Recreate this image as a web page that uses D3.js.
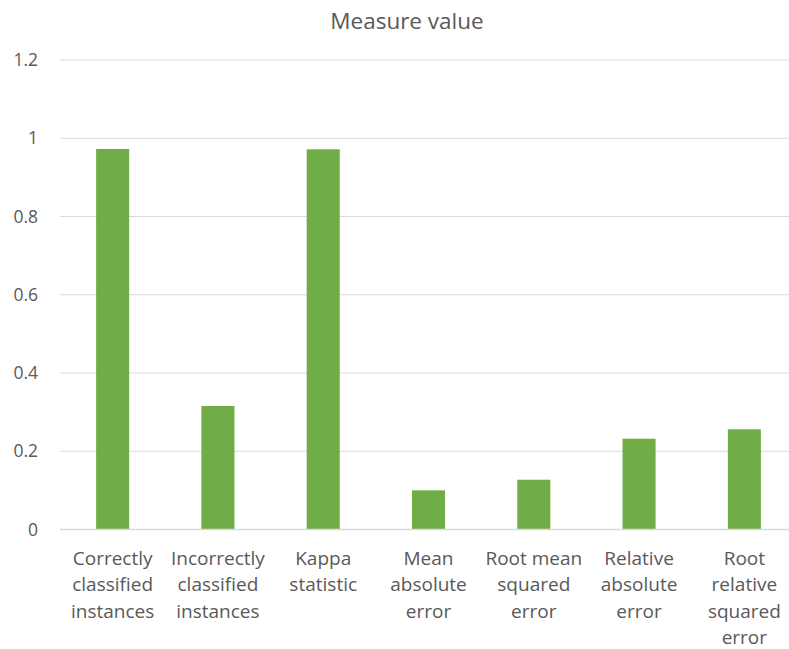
<!DOCTYPE html>
<html>
<head>
<meta charset="utf-8">
<script src="https://cdn.jsdelivr.net/npm/d3@7"></script>
<style>
  html, body { margin: 0; padding: 0; background: #ffffff; }
  svg text { font-family: "Open Sans", Lato, "DejaVu Sans", sans-serif; fill: #595959; }
</style>
</head>
<body>
<svg id="chart" width="789" height="649"></svg>
<script>
// Evaluation measures of the classifier
const categories = [
  "Correctly classified instances",
  "Incorrectly classified instances",
  "Kappa statistic",
  "Mean absolute error",
  "Root mean squared error",
  "Relative absolute error",
  "Root relative squared error"
];
// Axis label lines for each category
const categoryLines = [
  ["Correctly", "classified", "instances"],
  ["Incorrectly", "classified", "instances"],
  ["Kappa", "statistic"],
  ["Mean", "absolute", "error"],
  ["Root mean", "squared", "error"],
  ["Relative", "absolute", "error"],
  ["Root", "relative", "squared", "error"]
];
const values = [0.9725, 0.3157, 0.9718, 0.1001, 0.1272, 0.2321, 0.2562];
const yTicks = [0, 0.2, 0.4, 0.6, 0.8, 1, 1.2];
const yTickLabels = ["0", "0.2", "0.4", "0.6", "0.8", "1", "1.2"];
const title = "Measure value";

const svg = d3.select("#chart");
const W = 789, H = 649;
const plot = { left: 60, right: 797, top: 60, bottom: 529.5 };

const x = d3.scaleBand()
  .domain(categories)
  .range([plot.left, plot.right])
  .paddingInner(0.686)
  .paddingOuter(0.343);

const y = d3.scaleLinear()
  .domain([0, 1.2])
  .range([plot.bottom, plot.top]);

// Horizontal gridlines
svg.append("g")
  .selectAll("line")
  .data(yTicks.filter(t => t > 0))
  .join("line")
  .attr("x1", plot.left)
  .attr("x2", W)
  .attr("y1", d => y(d))
  .attr("y2", d => y(d))
  .attr("stroke", "#d9d9d9")
  .attr("stroke-width", 1);

// Y axis labels
const yAxis = d3.axisLeft(y)
  .tickValues(yTicks)
  .tickFormat((d, i) => yTickLabels[i])
  .tickSize(0)
  .tickPadding(0);
const gy = svg.append("g")
  .attr("transform", `translate(38,0)`)
  .call(yAxis);
gy.select(".domain").remove();
gy.selectAll("text")
  .attr("font-size", 17.5)
  .attr("fill", "#595959")
  .style("font-family", "'Open Sans', Lato, sans-serif");

// Bars
svg.append("g")
  .selectAll("rect")
  .data(values)
  .join("rect")
  .attr("x", (d, i) => x(categories[i]))
  .attr("width", x.bandwidth())
  .attr("y", d => y(d))
  .attr("height", d => y(0) - y(d))
  .attr("fill", "#70ad47");

// Baseline
svg.append("line")
  .attr("x1", plot.left)
  .attr("x2", W)
  .attr("y1", y(0))
  .attr("y2", y(0))
  .attr("stroke", "#d9d9d9")
  .attr("stroke-width", 1.5);

// Category labels
const xAxis = d3.axisBottom(x).tickSize(0).tickFormat("");
const gx = svg.append("g")
  .attr("transform", `translate(0,${y(0)})`)
  .call(xAxis);
gx.select(".domain").remove();
gx.selectAll(".tick").each(function(d, i) {
  const t = d3.select(this).append("text")
    .attr("text-anchor", "middle")
    .attr("font-size", 19)
    .attr("fill", "#595959")
    .attr("y", 35);
  categoryLines[i].forEach((line, k) => {
    t.append("tspan")
      .attr("x", 0)
      .attr("dy", k === 0 ? 0 : 26.5)
      .text(line);
  });
});

// Title
svg.append("text")
  .attr("x", 407)
  .attr("y", 29)
  .attr("text-anchor", "middle")
  .attr("font-size", 22.5)
  .attr("fill", "#595959")
  .text(title);
</script>
</body>
</html>
